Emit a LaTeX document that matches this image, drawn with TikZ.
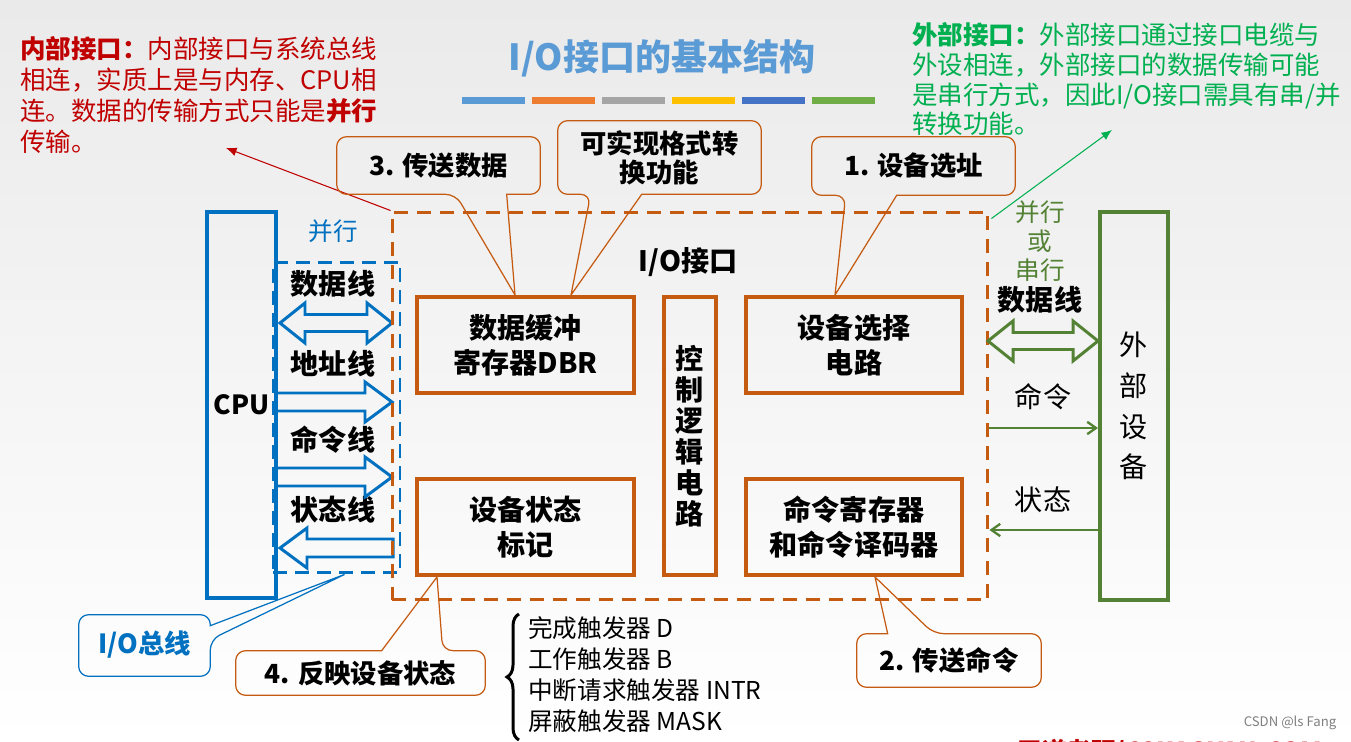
\documentclass[tikz,border=0pt]{standalone}
\usepackage{fontspec}
\setmainfont{Noto Sans CJK SC}
\usetikzlibrary{calc,arrows.meta,decorations.pathreplacing}

\definecolor{busblue}{HTML}{0070C0}
\definecolor{ifaceorange}{HTML}{C55A11}
\definecolor{devgreen}{HTML}{548235}
\definecolor{titleblue}{HTML}{5B9BD5}
\definecolor{notered}{HTML}{C00000}
\definecolor{notegreen}{HTML}{00B050}
\definecolor{bgray}{HTML}{EAEAEA}
\definecolor{barA}{HTML}{5B9BD5}
\definecolor{barB}{HTML}{ED7D31}
\definecolor{barC}{HTML}{A5A5A5}
\definecolor{barD}{HTML}{FFC000}
\definecolor{barE}{HTML}{4472C4}
\definecolor{barF}{HTML}{70AD47}

\def\blockarrow[#1](#2,#3,#4){\draw[#1] (#2,#3-9) -- ({#4-27*sign(#4-#2)},#3-9) -- ({#4-27*sign(#4-#2)},#3-20) -- (#4,#3) -- ({#4-27*sign(#4-#2)},#3+20) -- ({#4-27*sign(#4-#2)},#3+9) -- (#2,#3+9) -- cycle;}
\def\doublearrow[#1](#2,#3,#4){\draw[#1] (#2,#3) -- (#2+25,#3-20) -- (#2+25,#3-8.5) -- (#4-25,#3-8.5) -- (#4-25,#3-20) -- (#4,#3) -- (#4-25,#3+20) -- (#4-25,#3+8.5) -- (#2+25,#3+8.5) -- (#2+25,#3+20) -- cycle;}

\tikzset{
  note/.style={anchor=north west, inner sep=0pt, align=left, font=\fontsize{14.5}{17.6}\selectfont},
  cpubox/.style={draw=busblue, line width=2pt, inner sep=0pt, font=\fontsize{15}{18}\selectfont\bfseries},
  busbox/.style={draw=busblue, line width=1.7pt, dash pattern=on 0.28cm off 0.16cm},
  ifacebox/.style={draw=ifaceorange, line width=1.7pt, dash pattern=on 0.28cm off 0.18cm},
  unitbox/.style={draw=ifaceorange, line width=2.3pt, inner sep=0pt, align=center, font=\fontsize{16}{20}\selectfont\bfseries},
  devbox/.style={draw=devgreen, line width=2.3pt, inner sep=0pt, align=center, font=\fontsize{16}{23.2}\selectfont},
  linelbl/.style={inner sep=0pt, font=\fontsize{16}{19}\selectfont\bfseries},
  sidelbl/.style={inner sep=0pt, align=center, font=\fontsize{14}{16.4}\selectfont},
  busarrow/.style={draw=busblue, line width=1.7pt},
  devarrow/.style={draw=devgreen, line width=1.7pt},
  devline/.style={draw=devgreen, line width=1.3pt, -{Straight Barb[length=5pt,width=7pt]}},
  calltext/.style={inner sep=0pt, align=center, font=\fontsize{15}{16.5}\selectfont\bfseries},
  callout/.style={draw=ifaceorange, line width=0.7pt},
}

\begin{document}
\begin{tikzpicture}[x=0.02cm, y=-0.02cm]
  % background
  \useasboundingbox (0,0) rectangle (1351,742);
  \shade[top color=bgray, bottom color=white] (0,0) rectangle (1351,742);

  % title
  \node[font=\fontsize{20.5}{24}\selectfont\bfseries, text=titleblue] (title) at (662,58) {I/O接口的基本结构};
  \foreach \c [count=\i] in {barA,barB,barC,barD,barE,barF}
    \fill[\c] ({462+70*(\i-1)},97) rectangle ++(63,7);

  % notes
  \node[note, text=notered] (innernote) at (20,36) {\textbf{内部接口：}内部接口与系统总线\\相连，实质上是与内存、CPU相\\连。数据的传输方式只能是\textbf{并行}\\传输。};
  \node[note, text=notegreen, font=\fontsize{14.5}{17}\selectfont] (outernote) at (912,22) {\textbf{外部接口：}外部接口通过接口电缆与\\外设相连，外部接口的数据传输可能\\是串行方式，因此I/O接口需具有串/并\\转换功能。};

  % cpu side
  \node[busbox, minimum width=2.54cm, minimum height=6.22cm] (bus) at (336.5,417.5) {};
  \node[cpubox, minimum width=1.38cm, minimum height=7.72cm] (cpu) at (241.5,405) {CPU};
  \node[sidelbl, text=busblue] (buspar) at (333,231) {并行};
  \node[linelbl] (datalbl) at (333,284) {数据线};
  \node[linelbl] (addrlbl) at (333,364) {地址线};
  \node[linelbl] (ordlbl) at (333,440) {命令线};
  \node[linelbl] (statlbl) at (333,510) {状态线};
  \doublearrow[busarrow](280,323,392)
  \blockarrow[busarrow](276,402,392)
  \blockarrow[busarrow](276,477,392)
  \blockarrow[busarrow](393,548,280)

  % interface
  \node[ifacebox, minimum width=11.92cm, minimum height=7.76cm] (iface) at (690,406) {};
  \node[linelbl] (iolabel) at (688,262) {I/O接口};
  \node[unitbox, minimum width=4.34cm, minimum height=1.92cm] (dbr) at (525.5,345) {数据缓冲\\寄存器DBR};
  \node[unitbox, minimum width=1.04cm, minimum height=5.56cm, font=\fontsize{16}{17.6}\selectfont\bfseries] (ctrl) at (690,436) {控\\制\\逻\\辑\\电\\路};
  \node[unitbox, minimum width=4.32cm, minimum height=1.92cm] (sel) at (854,345) {设备选择\\电路};
  \node[unitbox, minimum width=4.34cm, minimum height=1.92cm] (stat) at (525.5,527) {设备状态\\标记};
  \node[unitbox, minimum width=4.32cm, minimum height=1.92cm] (cmd) at (854,527) {命令寄存器\\和命令译码器};

  % device side
  \node[devbox, minimum width=1.36cm, minimum height=7.76cm] (dev) at (1134,406) {外\\部\\设\\备};
  \node[sidelbl, text=devgreen] (devmode) at (1040,241) {并行\\或\\串行};
  \node[linelbl] (devdata) at (1040,300) {数据线};
  \node[linelbl, font=\fontsize{16}{19}\selectfont] (devcmd) at (1043,397) {命令};
  \node[linelbl, font=\fontsize{16}{19}\selectfont] (devstat) at (1043,500) {状态};
  \doublearrow[devarrow](988,341,1098)
  \draw[devline] ($(iface.east)+(0,22)$) -- ($(dev.west)+(0,22)$);
  \draw[devline] ($(dev.west)+(0,124)$) -- ($(iface.east)+(0,124)$);

  % note arrows
  \coordinate (innertip) at (226,148);
  \coordinate (outertip) at (1112,130);
  \draw[notered, line width=0.6pt, -{Latex[length=6pt,width=5pt]}] (iface.north west) -- (innertip);
  \draw[notegreen, line width=0.6pt, -{Latex[length=6pt,width=5pt]}] ($(iface.north east)+(2,8)$) -- (outertip);

  % callouts
  \node[calltext, minimum width=4.06cm, minimum height=1.14cm] (send) at (438.5,165.5) {3. 传送数据};
  \coordinate (sendtip) at ($(dbr.north west)+(100,0)$);
  \draw[callout] (sendtip) -- ($(send.south west)+(170,0)$) [rounded corners=0.2cm] -- (send.south east) -- (send.north east) -- (send.north west) -- (send.south west) -- ($(send.south west)+(119,0)$) [sharp corners] -- cycle;

  \node[calltext, minimum width=4.06cm, minimum height=1.46cm] (fmt) at (659.5,157.5) {可实现格式转\\换功能};
  \coordinate (fmttip) at ($(dbr.north west)+(156,0)$);
  \draw[callout] (fmttip) -- ($(fmt.south west)+(84,0)$) [rounded corners=0.2cm] -- (fmt.south east) -- (fmt.north east) -- (fmt.north west) -- (fmt.south west) -- ($(fmt.south west)+(33,0)$) [sharp corners] -- cycle;

  \node[calltext, minimum width=4.06cm, minimum height=1.16cm] (addr) at (913.5,166) {1. 设备选址};
  \coordinate (addrtip) at ($(sel.north west)+(91,0)$);
  \draw[callout] (addrtip) -- ($(addr.south west)+(85,0)$) [rounded corners=0.2cm] -- (addr.south east) -- (addr.north east) -- (addr.north west) -- (addr.south west) -- ($(addr.south west)+(34,0)$) [sharp corners] -- cycle;

  \node[calltext, minimum width=4.98cm, minimum height=0.88cm] (report) at (360.5,673) {4. 反映设备状态};
  \coordinate (reporttip) at ($(stat.south west)+(22,0)$);
  \draw[callout] (reporttip) -- ($(report.north west)+(146,0)$) [rounded corners=0.2cm] -- (report.north west) -- (report.south west) -- (report.south east) -- (report.north east) -- ($(report.north west)+(207,0)$) [sharp corners] -- cycle;

  \node[calltext, minimum width=3.68cm, minimum height=1.06cm] (order) at (949,660.5) {2. 传送命令};
  \coordinate (ordertip) at ($(cmd.south west)+(131,0)$);
  \draw[callout] (ordertip) -- ($(order.north west)+(31,0)$) [rounded corners=0.2cm] -- (order.north west) -- (order.south west) -- (order.south east) -- (order.north east) -- ($(order.north west)+(77,0)$) [sharp corners] -- cycle;

  \node[calltext, text=busblue, minimum width=2.62cm, minimum height=1.22cm] (iobus) at (144.5,645.5) {\raisebox{4pt}{I/O总线}};
  \coordinate (iobustip) at ($(bus.south)+(8,0)$);
  \draw[callout, draw=busblue] (iobustip) -- ($(iobus.north east)+(0,11)$) [rounded corners=0.2cm] -- (iobus.north east) -- (iobus.north west) -- (iobus.south west) -- (iobus.south east) -- ($(iobus.north east)+(0,25)$) [sharp corners] -- cycle;

  % flag list
  \draw[decorate, decoration={brace, amplitude=0.24cm}, line width=1.7pt] (519,740) -- (519,614);
  \node[anchor=north west, align=left, inner sep=0pt, font=\fontsize{14}{17.6}\selectfont] (flags) at (528,616) {完成触发器 D\\工作触发器 B\\中断请求触发器 INTR\\屏蔽触发器 MASK};

  % marks
  \node[text=gray, font=\fontsize{7.5}{9}\selectfont] (mark) at (1290,723) {CSDN @ls Fang};
  \node[text=notered, font=\fontsize{14}{17}\selectfont\bfseries] (site) at (1170,752) {王道考研/CSKAOYAN.COM};
\end{tikzpicture}
\end{document}
